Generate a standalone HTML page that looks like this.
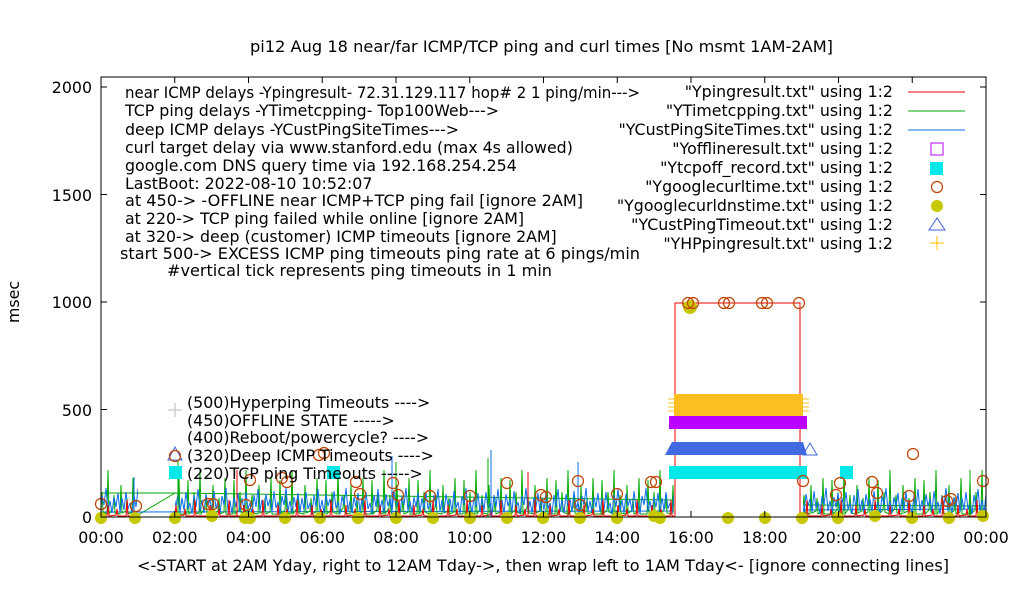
<!DOCTYPE html>
<html><head><meta charset="utf-8"><style>
html,body{margin:0;padding:0;background:#fff;}
svg{display:block;font-family:"DejaVu Sans","Liberation Sans",sans-serif;}
</style></head><body>
<svg width="1020" height="600" viewBox="0 0 1020 600" xmlns="http://www.w3.org/2000/svg">
<defs>
<pattern id="pb" patternUnits="userSpaceOnUse" x="0" y="0" width="60" height="600">
<polyline fill="none" stroke="#0a6cf0" stroke-width="1" points="0,512 2,498 4,510 6,492 8,509 10,503 12,514 14,495 16,507 18,489 20,511 22,500 24,513 26,494 28,506 30,499 32,512 34,491 36,508 38,502 40,514 42,496 44,505 46,488 48,511 50,501 52,513 54,497 56,507 58,493 60,512"/>
</pattern>
<pattern id="pg" patternUnits="userSpaceOnUse" x="0" y="0" width="46" height="600">
<polyline fill="none" stroke="#0a0" stroke-width="1" points="0,514 3,514 4,480 5,514 9,510 10,492 11,512 15,514 16,470 17,514 21,508 22,495 23,513 28,514 29,485 30,513 34,511 35,498 36,514 40,512 41,478 42,514 46,514"/>
</pattern>
<pattern id="pr" patternUnits="userSpaceOnUse" x="0" y="0" width="34" height="600">
<polyline fill="none" stroke="#e00" stroke-width="1" points="0,516 5,516 6,505 7,516 14,515 15,509 16,516 24,516 25,500 26,516 34,516"/>
</pattern>
</defs>
<rect width="1020" height="600" fill="#fff"/>
<path d="M101,493 L177,493 L674,500 M803,505 L986,506" fill="none" stroke="#0a0"/>
<path d="M138,515 L175,493" fill="none" stroke="#0a0"/>
<path d="M101,512 L674,511 M803,510 L986,509" fill="none" stroke="#0a6cf0"/>
<rect x="101" y="460" width="37" height="57" fill="url(#pg)"/>
<rect x="175" y="460" width="499" height="57" fill="url(#pg)"/>
<rect x="803" y="460" width="183" height="57" fill="url(#pg)"/>
<rect x="101" y="460" width="37" height="57" fill="url(#pb)"/>
<rect x="175" y="460" width="499" height="57" fill="url(#pb)"/>
<rect x="803" y="460" width="183" height="57" fill="url(#pb)"/>
<rect x="101" y="460" width="37" height="57" fill="url(#pr)"/>
<rect x="175" y="460" width="499" height="57" fill="url(#pr)"/>
<rect x="803" y="460" width="183" height="57" fill="url(#pr)"/>
<path d="M134,517 V477 M392,517 V456 M578,517 V462 M491,517 V450" stroke="#0a6cf0"/>
<path d="M178,517 V460 M396,517 V462 M488,517 V458 M970,517 V470" stroke="#0a0"/>
<path d="M237,517 V470 M528,517 V472" stroke="#e00"/>
<path d="M675,517 V303 H800 V517" fill="none" stroke="#e00"/>
<rect x="674" y="394" width="129" height="23" fill="#fbbf22"/>
<path d="M668,399H674M668,403H674M668,407H674M668,411H674M803,399H809M803,403H809M803,407H809M803,411H809" stroke="#fbbf22"/>
<rect x="669" y="416" width="138" height="13" fill="#b0f"/>
<path d="M665,455 L672,442 H803 L807,455 Z" fill="#4169e1"/>
<path d="M803,455 L810,443 L817,455 Z" fill="none" stroke="#4169e1"/>
<rect x="669" y="466" width="138" height="13" fill="#00e8e8"/>
<rect x="840" y="466" width="13" height="13" fill="#00e8e8"/>
<rect x="327" y="466" width="13" height="13" fill="#00e8e8"/>
<rect x="169" y="466" width="13" height="13" fill="#00e8e8"/>
<path d="M168,460L175,447L182,460Z" fill="none" stroke="#4060e0"/>
<path d="M168,410H182M175,403V417" stroke="#bbb"/>
<g fill="#c8c800">
<circle cx="101" cy="518" r="6"/><circle cx="135" cy="518" r="6"/><circle cx="175" cy="518" r="6"/><circle cx="212" cy="516" r="6"/><circle cx="245" cy="518" r="6"/><circle cx="250" cy="518" r="6"/><circle cx="285" cy="518" r="6"/><circle cx="320" cy="518" r="6"/><circle cx="358" cy="518" r="6"/><circle cx="396" cy="518" r="6"/><circle cx="433" cy="518" r="6"/><circle cx="470" cy="518" r="6"/><circle cx="507" cy="518" r="6"/><circle cx="543" cy="518" r="6"/><circle cx="580" cy="518" r="6"/><circle cx="617" cy="518" r="6"/><circle cx="654" cy="516" r="6"/><circle cx="660" cy="518" r="6"/><circle cx="728" cy="518" r="6"/><circle cx="765" cy="518" r="6"/><circle cx="802" cy="518" r="6"/><circle cx="838" cy="518" r="6"/><circle cx="875" cy="516" r="6"/><circle cx="912" cy="518" r="6"/><circle cx="949" cy="518" r="6"/><circle cx="983" cy="516" r="6"/><circle cx="690" cy="307" r="7"/>
</g>
<g fill="none" stroke="#c04000" stroke-width="1.2">
<circle cx="101" cy="504" r="5.5"/><circle cx="136" cy="506" r="5.5"/><circle cx="208" cy="504" r="5.5"/><circle cx="213" cy="504" r="5.5"/><circle cx="250" cy="480" r="5.5"/><circle cx="246" cy="505" r="5.5"/><circle cx="282" cy="478" r="5.5"/><circle cx="287" cy="482" r="5.5"/><circle cx="319" cy="455" r="5.5"/><circle cx="324" cy="453" r="5.5"/><circle cx="356" cy="482" r="5.5"/><circle cx="360" cy="494" r="5.5"/><circle cx="393" cy="483" r="5.5"/><circle cx="398" cy="495" r="5.5"/><circle cx="430" cy="496" r="5.5"/><circle cx="470" cy="496" r="5.5"/><circle cx="507" cy="483" r="5.5"/><circle cx="541" cy="495" r="5.5"/><circle cx="546" cy="497" r="5.5"/><circle cx="578" cy="481" r="5.5"/><circle cx="580" cy="505" r="5.5"/><circle cx="617" cy="494" r="5.5"/><circle cx="651" cy="482" r="5.5"/><circle cx="656" cy="482" r="5.5"/><circle cx="688" cy="303" r="5.5"/><circle cx="693" cy="303" r="5.5"/><circle cx="724" cy="303" r="5.5"/><circle cx="729" cy="303" r="5.5"/><circle cx="762" cy="303" r="5.5"/><circle cx="767" cy="303" r="5.5"/><circle cx="799" cy="303" r="5.5"/><circle cx="803" cy="481" r="5.5"/><circle cx="836" cy="495" r="5.5"/><circle cx="840" cy="483" r="5.5"/><circle cx="872" cy="482" r="5.5"/><circle cx="877" cy="493" r="5.5"/><circle cx="913" cy="454" r="5.5"/><circle cx="909" cy="496" r="5.5"/><circle cx="947" cy="501" r="5.5"/><circle cx="951" cy="499" r="5.5"/><circle cx="983" cy="481" r="5.5"/>
<circle cx="175" cy="456" r="5.5"/>
</g>
<rect x="101" y="77" width="885" height="440" fill="none" stroke="#000" stroke-width="1"/>
<g stroke="#000" stroke-width="1">
<path d="M101,517v-6M174.75,517v-6M248.5,517v-6M322.25,517v-6M396,517v-6M469.75,517v-6M543.5,517v-6M617.25,517v-6M691,517v-6M764.75,517v-6M838.5,517v-6M912.25,517v-6M986,517v-6"/>
<path d="M101,77v6M174.75,77v6M248.5,77v6M322.25,77v6M396,77v6M469.75,77v6M543.5,77v6M617.25,77v6M691,77v6M764.75,77v6M838.5,77v6M912.25,77v6M986,77v6"/>
<path d="M101,87h6M101,194.5h6M101,302h6M101,409.5h6M986,87h-6M986,194.5h-6M986,302h-6M986,409.5h-6"/>
</g>
<g font-size="15.8" fill="#000">
<text x="250" y="52" textLength="583" lengthAdjust="spacingAndGlyphs">pi12 Aug 18  near/far ICMP/TCP ping and curl times [No msmt 1AM-2AM]</text>
<text x="137" y="571" textLength="812" lengthAdjust="spacingAndGlyphs">&lt;-START at 2AM Yday, right to 12AM Tday-&gt;, then wrap left to 1AM Tday&lt;- [ignore connecting lines]</text>
<text transform="translate(19,302) rotate(-90)" text-anchor="middle">msec</text>
<g text-anchor="end">
<text x="92" y="93">2000</text><text x="92" y="201">1500</text><text x="92" y="308">1000</text><text x="92" y="416">500</text><text x="92" y="523">0</text>
</g>
<g text-anchor="middle">
<text x="101" y="543">00:00</text><text x="174.75" y="543">02:00</text><text x="248.5" y="543">04:00</text><text x="322.25" y="543">06:00</text><text x="396" y="543">08:00</text><text x="469.75" y="543">10:00</text><text x="543.5" y="543">12:00</text><text x="617.25" y="543">14:00</text><text x="691" y="543">16:00</text><text x="764.75" y="543">18:00</text><text x="838.5" y="543">20:00</text><text x="912.25" y="543">22:00</text><text x="986" y="543">00:00</text>
</g>
<text x="125" y="98" textLength="515" lengthAdjust="spacingAndGlyphs">near ICMP delays -Ypingresult- 72.31.129.117 hop# 2  1 ping/min---&gt;</text>
<text x="125" y="116">TCP ping delays -YTimetcpping- Top100Web---&gt;</text>
<text x="125" y="135">deep ICMP delays -YCustPingSiteTimes---&gt;</text>
<text x="125" y="153">curl target delay via www.stanford.edu (max 4s allowed)</text>
<text x="125" y="171">google.com DNS query time via 192.168.254.254</text>
<text x="125" y="189">LastBoot: 2022-08-10 10:52:07</text>
<text x="125" y="206" textLength="458" lengthAdjust="spacingAndGlyphs">at 450-&gt; -OFFLINE near ICMP+TCP ping fail [ignore 2AM]</text>
<text x="125" y="224">at 220-&gt; TCP ping failed while online [ignore 2AM]</text>
<text x="125" y="242">at 320-&gt; deep (customer) ICMP timeouts [ignore 2AM]</text>
<text x="120" y="259" textLength="520" lengthAdjust="spacingAndGlyphs">start 500-&gt; EXCESS ICMP ping timeouts ping rate at 6 pings/min</text>
<text x="167" y="276" textLength="385" lengthAdjust="spacingAndGlyphs">#vertical tick represents ping timeouts in 1 min</text>
<g text-anchor="end">
<text x="893" y="97">"Ypingresult.txt" using 1:2</text>
<text x="893" y="116">"YTimetcpping.txt" using 1:2</text>
<text x="893" y="135">"YCustPingSiteTimes.txt" using 1:2</text>
<text x="893" y="154">"Yofflineresult.txt" using 1:2</text>
<text x="893" y="173">"Ytcpoff_record.txt" using 1:2</text>
<text x="893" y="192">"Ygooglecurltime.txt" using 1:2</text>
<text x="893" y="211">"Ygooglecurldnstime.txt" using 1:2</text>
<text x="893" y="230">"YCustPingTimeout.txt" using 1:2</text>
<text x="893" y="249">"YHPpingresult.txt" using 1:2</text>
</g>
<text x="187" y="408">(500)Hyperping Timeouts ----&gt;</text>
<text x="187" y="426">(450)OFFLINE STATE -----&gt;</text>
<text x="187" y="443">(400)Reboot/powercycle? ----&gt;</text>
<text x="187" y="461">(320)Deep ICMP Timeouts ----&gt;</text>
<text x="187" y="479">(220)TCP ping Timeouts -----&gt;</text>
</g>
<g>
<line x1="908" y1="92" x2="965" y2="92" stroke="#e00"/>
<line x1="908" y1="111" x2="965" y2="111" stroke="#0a0"/>
<line x1="908" y1="130" x2="965" y2="130" stroke="#0a6cf0"/>
<rect x="931" y="143" width="12" height="12" fill="none" stroke="#b0f"/>
<rect x="930" y="162" width="13" height="13" fill="#00e8e8"/>
<circle cx="937" cy="187" r="5.5" fill="none" stroke="#c04000" stroke-width="1.2"/>
<circle cx="937" cy="206" r="6" fill="#c8c800"/>
<path d="M929,230 L937,218 L945,230 Z" fill="none" stroke="#4060e0"/>
<path d="M930,243 L944,243 M937,236 L937,250" stroke="#fb0"/>
</g>
</svg>
</body></html>
